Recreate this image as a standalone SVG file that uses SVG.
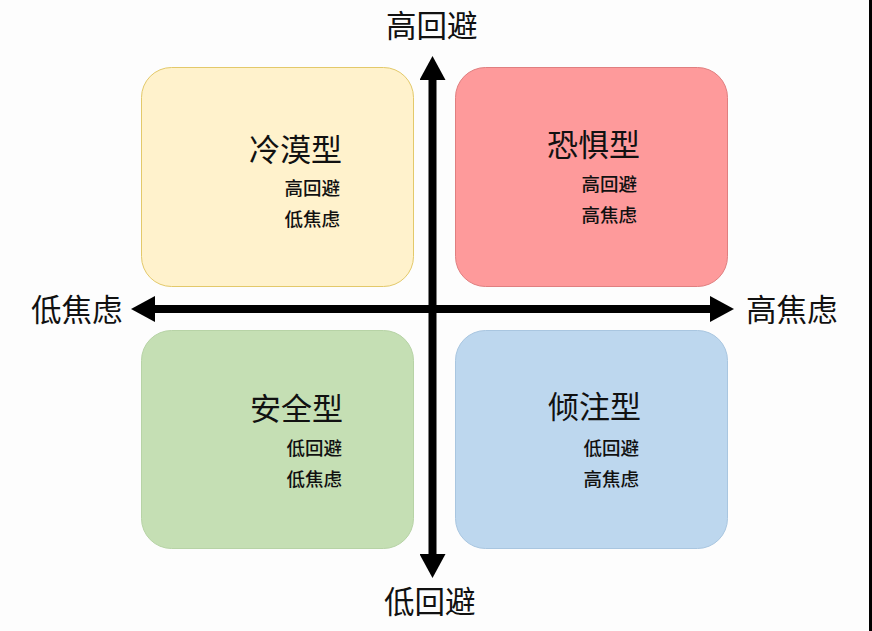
<svg xmlns="http://www.w3.org/2000/svg" width="872" height="631" viewBox="0 0 872 631">
<style>
text{font-family:"Noto Sans CJK SC","Noto Sans",sans-serif;fill:#111}
.title{font-size:31px;text-anchor:end}
.sub{font-size:18.5px;text-anchor:end;font-weight:500}
.axis{font-size:30.5px}
.ax{stroke:#000;stroke-width:8}
</style>
<defs>
<marker id="ah" viewBox="0 0 24 26" refX="2" refY="13" markerWidth="24" markerHeight="26" markerUnits="userSpaceOnUse" orient="auto">
<path d="M0,0 L24,13 L0,26 Z" fill="#000"/>
</marker>
</defs>
<rect width="872" height="631" fill="#fdfdfd"/>
<rect x="869" y="0" width="3" height="631" fill="#000"/>
<g id="node-avoidant">
<rect x="141.5" y="67.5" width="272" height="219" rx="30" fill="#fff2cc" stroke="#e3c96a" stroke-width="1"/>
<text class="title" x="342" y="161">冷漠型</text>
<text class="sub" x="340" y="195">高回避</text>
<text class="sub" x="340" y="226">低焦虑</text>
</g>
<g id="node-fearful">
<rect x="455.5" y="67.5" width="272" height="219" rx="30" fill="#fe9a9b" stroke="#e07f80" stroke-width="1"/>
<text class="title" x="640" y="156">恐惧型</text>
<text class="sub" x="637" y="191">高回避</text>
<text class="sub" x="637" y="222">高焦虑</text>
</g>
<g id="node-secure">
<rect x="141.5" y="330.5" width="272" height="218" rx="30" fill="#c5dfb4" stroke="#b7d3a6" stroke-width="1"/>
<text class="title" x="343" y="420">安全型</text>
<text class="sub" x="342" y="455">低回避</text>
<text class="sub" x="342" y="486">低焦虑</text>
</g>
<g id="node-preoccupied">
<rect x="455.5" y="330.5" width="272" height="218" rx="30" fill="#bdd7ee" stroke="#a9c6e0" stroke-width="1"/>
<text class="title" x="641" y="418">倾注型</text>
<text class="sub" x="639" y="455">低回避</text>
<text class="sub" x="639" y="486">高焦虑</text>
</g>
<g id="connectors">
<line class="ax" x1="432.5" y1="300" x2="432.5" y2="78" marker-end="url(#ah)"/>
<line class="ax" x1="432.5" y1="300" x2="432.5" y2="556" marker-end="url(#ah)"/>
<line class="ax" x1="432.5" y1="309" x2="712" y2="309" marker-end="url(#ah)"/>
<line class="ax" x1="432.5" y1="309" x2="153" y2="309" marker-end="url(#ah)"/>
</g>
<g id="axis-labels">
<text class="axis" x="386" y="37">高回避</text>
<text class="axis" x="384" y="613">低回避</text>
<text class="axis" x="746" y="321">高焦虑</text>
<text class="axis" x="31" y="321">低焦虑</text>
</g>
</svg>
